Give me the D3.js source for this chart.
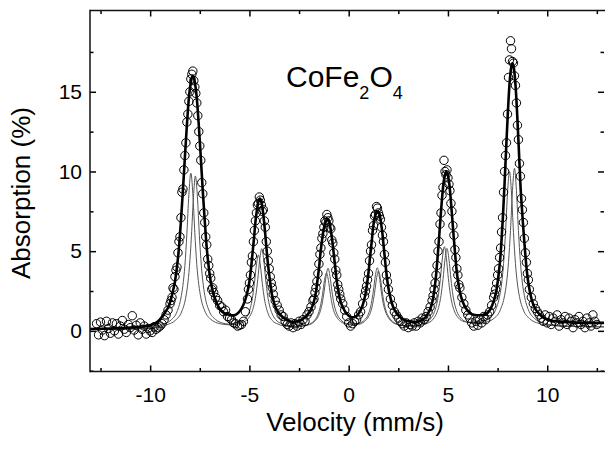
<!DOCTYPE html>
<html><head><meta charset="utf-8">
<script src="https://cdn.jsdelivr.net/npm/d3@7"></script>
<style>
body{margin:0;background:#fff}
svg{display:block}
text{font-family:"Liberation Sans",Arial,Helvetica,sans-serif;fill:#000}
</style>
</head><body>
<svg id="chart" width="605" height="452"></svg>
<script>
const xTicksMajor = [-10, -5, 0, 5, 10];
const xTicksMinor = [-12.5, -7.5, -2.5, 2.5, 7.5, 12.5];
const yTicksMajor = [0, 5, 10, 15];
const yTicksMinor = [-2.5, 2.5, 7.5, 12.5, 17.5];
const xTitle = "Velocity (mm/s)";
const yTitle = "Absorption (%)";
const sampleName = ["CoFe", "2", "O", "4"];

// measured points (open circles)
const dataVelocity = [
-12.7,-12.6,-12.5,-12.4,-12.3,-12.2,-12.1,-12.0,-11.9,-11.8,-11.7,-11.6,-11.5,-11.4,-11.3,-11.2,-11.1,-11.0,-10.9,-10.8,-10.7,-10.6,-10.5,-10.4,-10.3,-10.2,-10.1,-10.0,-9.9,-9.8,-9.7,-9.6,
-9.5,-9.4,-9.3,-9.2,-9.1,-9.0,
-8.95,-8.9,-8.85,-8.8,-8.75,-8.7,-8.65,-8.6,-8.55,-8.5,-8.45,-8.4,-8.35,-8.3,-8.25,-8.2,-8.15,-8.1,-8.05,-8.0,-7.95,-7.9,-7.85,-7.8,-7.75,-7.7,-7.65,-7.6,-7.55,-7.5,-7.45,-7.4,-7.35,-7.3,-7.25,-7.2,-7.15,-7.1,-7.05,-7.0,-6.95,-6.9,-6.85,-6.8,
-6.7,-6.6,-6.5,-6.4,-6.3,-6.2,-6.1,-6.0,-5.9,-5.8,-5.7,-5.6,-5.5,-5.4,-5.3,-5.2,
-5.1,-5.05,-5.0,-4.95,-4.9,-4.85,-4.8,-4.75,-4.7,-4.65,-4.6,-4.55,-4.5,-4.45,-4.4,-4.35,-4.3,-4.25,-4.2,-4.15,-4.1,-4.05,-4.0,-3.95,-3.9,-3.85,-3.8,
-3.7,-3.6,-3.5,-3.4,-3.3,-3.2,-3.1,-3.0,-2.9,-2.8,-2.7,-2.6,-2.5,-2.4,-2.3,-2.2,-2.1,-2.0,-1.9,-1.8,
-1.75,-1.7,-1.65,-1.6,-1.55,-1.5,-1.45,-1.4,-1.35,-1.3,-1.25,-1.2,-1.15,-1.1,-1.05,-1.0,-0.95,-0.9,-0.85,-0.8,-0.75,-0.7,-0.65,-0.6,-0.55,-0.5,-0.45,-0.4,
-0.3,-0.2,-0.1,0.0,0.1,0.2,0.3,0.4,0.5,0.6,0.7,
0.8,0.85,0.9,0.95,1.0,1.05,1.1,1.15,1.2,1.25,1.3,1.35,1.4,1.45,1.5,1.55,1.6,1.65,1.7,1.75,1.8,1.85,1.9,1.95,2.0,
2.1,2.2,2.3,2.4,2.5,2.6,2.7,2.8,2.9,3.0,3.1,3.2,3.3,3.4,3.5,3.6,3.7,3.8,3.9,4.0,4.1,4.2,
4.25,4.3,4.35,4.4,4.45,4.5,4.55,4.6,4.65,4.7,4.75,4.8,4.85,4.9,4.95,5.0,5.05,5.1,5.15,5.2,5.25,5.3,5.35,5.4,5.45,5.5,5.55,5.6,
5.7,5.8,5.9,6.0,6.1,6.2,6.3,6.4,6.5,6.6,6.7,6.8,6.9,7.0,7.1,7.2,7.3,
7.35,7.4,7.45,7.5,7.55,7.6,7.65,7.7,7.75,7.8,7.85,7.9,7.95,8.0,8.05,8.1,8.15,8.2,8.25,8.3,8.35,8.4,8.45,8.5,8.55,8.6,8.65,8.7,8.75,8.8,8.85,8.9,8.95,9.0,9.05,9.1,
9.2,9.3,9.4,9.5,9.6,9.7,9.8,9.9,10.0,10.1,10.2,10.3,10.4,10.5,10.6,10.7,10.8,10.9,11.0,11.1,11.2,11.3,11.4,11.5,11.6,11.7,11.8,11.9,12.0,12.1,12.2,12.3,12.4,12.5
];
const dataAbsorption = [
0.45,-0.25,0.55,0.05,-0.3,0.6,0.15,-0.15,0.5,0.0,0.45,-0.2,0.3,0.65,0.1,-0.1,0.4,0.2,0.95,0.05,0.35,-0.25,0.5,0.1,0.3,-0.2,0.15,0.0,-0.1,0.25,0.1,0.2,
0.3,0.45,0.7,1.0,1.3,1.7,
1.9,2.1,2.7,2.6,3.4,3.8,4.0,4.9,5.6,5.9,7.1,8.7,8.9,10.1,11.0,11.8,13.1,13.6,14.4,15.0,15.8,16.1,16.3,15.7,15.3,14.9,14.3,13.5,12.5,11.6,10.7,9.3,8.6,7.4,6.8,5.9,5.4,4.5,4.1,3.6,3.3,2.6,2.7,2.4,
2.1,1.9,1.6,1.5,1.2,1.3,0.9,0.8,0.7,0.5,0.45,0.3,0.35,0.4,0.6,1.2,
2.0,2.6,3.0,3.5,4.3,4.7,5.6,6.3,6.9,7.4,7.9,8.0,8.4,8.2,7.9,7.5,7.6,6.9,6.5,5.6,5.0,4.4,3.9,3.4,3.0,2.7,2.3,
1.9,1.6,1.3,1.0,0.9,0.6,0.4,0.3,0.5,0.2,0.45,0.3,0.6,0.4,0.7,0.6,1.0,1.2,1.5,1.9,
2.0,2.4,2.7,3.1,3.6,4.2,4.8,5.2,5.8,6.1,6.5,6.9,6.8,7.3,7.1,6.9,6.5,6.4,5.7,5.5,4.9,4.5,3.8,3.5,2.9,2.6,2.3,2.0,
1.7,1.3,0.9,0.5,0.3,0.45,0.6,0.7,1.0,1.2,1.7,
2.2,2.5,2.8,3.2,3.6,4.4,5.0,5.4,6.3,6.6,7.2,7.3,7.8,7.7,7.4,7.2,7.0,6.5,6.0,5.6,4.8,4.3,3.5,3.1,2.6,
2.0,1.6,1.2,1.0,0.8,0.6,0.45,0.3,0.5,0.2,0.4,0.3,0.5,0.3,0.6,0.5,0.8,0.7,0.9,1.2,1.5,1.9,
2.2,2.6,3.0,3.5,4.1,5.0,5.6,6.7,7.4,8.5,9.0,10.7,10.0,9.8,10.1,9.6,9.2,8.8,8.0,7.5,6.6,6.0,5.1,4.6,3.9,3.5,2.9,2.7,
2.1,1.7,1.3,1.0,0.8,0.5,0.3,0.6,0.35,0.7,0.5,0.9,0.7,1.0,1.2,1.6,2.1,
2.3,2.6,3.0,3.5,3.9,4.6,5.2,6.2,7.1,8.7,10.0,11.0,11.8,13.6,15.9,17.0,18.2,17.7,16.9,16.8,16.0,15.4,14.3,12.9,12.0,10.5,9.7,8.3,7.6,6.8,5.8,4.9,4.3,3.6,3.2,2.6,
2.1,1.7,1.4,1.2,1.0,0.8,0.6,1.0,0.5,0.9,0.4,0.8,0.6,1.0,0.3,0.7,0.5,0.9,0.4,0.8,0.6,0.2,0.7,0.5,0.9,0.4,0.6,0.2,0.8,0.5,0.3,1.0,0.6,0.4
];

// total fit (thick line)
const fitVelocity = [-13.03,-12,-11,-10.5,-10,-9.8,-9.6,-9.45,-9.25,-9.05,-8.85,-8.75,-8.65,-8.55,-8.45,-8.35,-8.25,-8.15,-8.05,-7.95,-7.85,-7.75,-7.65,-7.55,-7.45,-7.35,-7.25,-7.15,-7.05,-6.95,-6.85,-6.65,-6.45,-6.25,-6.0,-5.8,-5.55,-5.4,-5.25,-5.15,-5.0,-4.92,-4.85,-4.77,-4.7,-4.62,-4.55,-4.47,-4.4,-4.32,-4.25,-4.17,-4.1,-4.02,-3.94,-3.87,-3.79,-3.72,-3.57,-3.4,-3.2,-3.0,-2.8,-2.6,-2.4,-2.2,-2.05,-1.9,-1.8,-1.72,-1.64,-1.57,-1.49,-1.42,-1.34,-1.27,-1.19,-1.12,-1.05,-0.97,-0.9,-0.82,-0.75,-0.67,-0.6,-0.52,-0.45,-0.37,-0.3,-0.15,0.0,0.15,0.3,0.45,0.6,0.7,0.78,0.86,0.93,1.01,1.08,1.16,1.23,1.31,1.39,1.47,1.55,1.62,1.7,1.77,1.85,1.93,2.0,2.08,2.16,2.24,2.39,2.6,2.8,3.0,3.3,3.6,3.87,4.02,4.17,4.245,4.32,4.395,4.47,4.545,4.62,4.695,4.77,4.845,4.92,4.995,5.07,5.145,5.22,5.295,5.37,5.445,5.52,5.595,5.67,5.82,5.97,6.2,6.5,6.75,6.97,7.13,7.29,7.45,7.53,7.61,7.69,7.77,7.85,7.93,8.01,8.09,8.17,8.25,8.33,8.41,8.49,8.57,8.65,8.73,8.81,8.89,8.97,9.05,9.21,9.37,9.53,9.8,10.2,11,12,12.86];
const fitTotal = [0.12,0.15,0.2,0.25,0.35,0.45,0.6,0.8,1.15,1.6,2.5,3.1,4.0,5.2,6.9,8.8,10.9,12.9,14.6,15.6,16.0,15.6,14.6,12.9,10.9,8.8,6.9,5.2,4.0,3.1,2.5,1.75,1.3,1.1,1.0,0.97,1.15,1.4,1.8,2.2,3.1,3.9,4.8,5.8,6.8,7.6,8.1,8.3,8.1,7.5,6.7,5.6,4.6,3.7,2.9,2.3,1.9,1.6,1.2,0.95,0.75,0.62,0.56,0.6,0.68,0.85,1.05,1.35,1.65,2.0,2.5,3.2,4.0,4.9,5.7,6.3,6.75,6.95,7.0,6.8,6.3,5.6,4.8,3.9,3.1,2.5,2.05,1.7,1.5,1.15,0.95,0.85,0.85,1.0,1.3,1.6,1.95,2.4,3.0,3.8,4.7,5.6,6.5,7.1,7.4,7.5,7.35,6.85,6.1,5.2,4.2,3.3,2.7,2.2,1.8,1.5,1.15,0.85,0.7,0.6,0.55,0.62,0.85,1.15,1.6,2.0,2.6,3.4,4.5,5.7,7.0,8.2,9.2,9.77,10.0,9.77,9.2,8.2,7.0,5.8,4.7,3.7,3.0,2.47,2.1,1.6,1.3,1.05,0.98,1.0,1.1,1.35,1.8,2.6,3.3,4.2,5.5,7.2,9.2,11.4,13.5,15.3,16.4,16.8,16.4,15.3,13.5,11.4,9.2,7.6,6.2,4.9,3.8,3.0,2.0,1.45,1.15,0.85,0.65,0.55,0.5,0.5];

// sub-spectrum A (thin line)
const siteAVelocity = [-13.03,-12,-11,-10,-9.45,-8.95,-8.65,-8.45,-8.35,-8.25,-8.15,-8.05,-7.95,-7.85,-7.75,-7.65,-7.55,-7.45,-7.25,-6.95,-6.45,-6.0,-5.55,-5.25,-5.05,-4.95,-4.85,-4.75,-4.65,-4.55,-4.45,-4.35,-4.25,-4.15,-4.05,-3.85,-3.55,-3.05,-2.6,-2.12,-1.82,-1.62,-1.52,-1.42,-1.32,-1.22,-1.12,-1.02,-0.92,-0.82,-0.72,-0.62,-0.42,-0.12,0.2,0.5,0.8,1.0,1.1,1.2,1.3,1.4,1.5,1.6,1.7,1.8,1.9,2.0,2.2,2.5,3.0,3.45,3.95,4.25,4.45,4.55,4.65,4.75,4.85,4.95,5.05,5.15,5.25,5.35,5.45,5.65,5.95,6.45,6.85,7.35,7.65,7.85,7.95,8.05,8.15,8.25,8.35,8.45,8.55,8.65,8.75,8.85,9.05,9.35,9.85,10.35,11,12,12.86];
const siteAValues = [0.08,0.1,0.12,0.16,0.36,0.68,1.2,2.06,2.85,4.1,6.1,8.55,9.9,8.6,6.15,4.15,2.9,2.1,1.25,0.73,0.44,0.38,0.47,0.69,1.08,1.45,2.05,2.97,4.13,4.76,4.13,2.97,2.05,1.45,1.05,0.65,0.42,0.28,0.27,0.36,0.54,0.84,1.12,1.58,2.28,3.16,3.64,3.16,2.28,1.58,1.15,0.89,0.6,0.42,0.37,0.41,0.59,0.89,1.16,1.64,2.36,3.26,3.76,3.26,2.36,1.64,1.18,0.92,0.6,0.39,0.3,0.32,0.47,0.73,1.17,1.57,2.22,3.22,4.48,5.17,4.5,3.25,2.25,1.62,1.22,0.8,0.56,0.47,0.53,0.81,1.35,2.2,3.0,4.3,6.3,8.8,10.2,8.8,6.3,4.3,3.0,2.2,1.33,0.79,0.47,0.35,0.3,0.26,0.25];

// sub-spectrum B (thin line)
const siteBVelocity = [-13.03,-12,-11,-10,-9.22,-8.72,-8.42,-8.22,-8.12,-8.02,-7.92,-7.82,-7.72,-7.62,-7.52,-7.42,-7.32,-7.22,-7.02,-6.72,-6.22,-5.8,-5.38,-5.08,-4.88,-4.78,-4.68,-4.58,-4.48,-4.38,-4.28,-4.18,-4.08,-3.98,-3.88,-3.68,-3.38,-2.88,-2.5,-2.04,-1.74,-1.54,-1.44,-1.34,-1.24,-1.14,-1.04,-0.94,-0.84,-0.74,-0.64,-0.54,-0.34,-0.04,0.2,0.44,0.74,0.94,1.04,1.14,1.24,1.34,1.44,1.54,1.64,1.74,1.84,1.94,2.14,2.44,2.94,3.32,3.82,4.12,4.32,4.42,4.52,4.62,4.72,4.82,4.92,5.02,5.12,5.22,5.32,5.52,5.82,6.32,6.6,7.1,7.4,7.6,7.7,7.8,7.9,8.0,8.1,8.2,8.3,8.4,8.5,8.6,8.8,9.1,9.6,10.1,11,12,12.86];
const siteBValues = [0.08,0.1,0.12,0.16,0.36,0.67,1.18,2.02,2.8,4.04,5.96,8.38,9.72,8.4,5.98,4.06,2.83,2.05,1.23,0.73,0.45,0.4,0.5,0.75,1.17,1.57,2.22,3.22,4.47,5.16,4.47,3.2,2.2,1.55,1.15,0.71,0.45,0.3,0.28,0.37,0.57,0.89,1.19,1.69,2.45,3.41,3.93,3.41,2.45,1.69,1.22,0.93,0.62,0.44,0.42,0.44,0.62,0.92,1.22,1.72,2.48,3.44,3.96,3.44,2.48,1.72,1.25,0.96,0.61,0.41,0.32,0.34,0.48,0.75,1.19,1.6,2.26,3.28,4.57,5.28,4.58,3.3,2.3,1.65,1.25,0.82,0.58,0.49,0.52,0.81,1.32,2.16,2.94,4.22,6.18,8.65,10.0,8.65,6.18,4.22,2.94,2.16,1.3,0.78,0.46,0.35,0.28,0.26,0.25];

const W = 605, H = 452;
const pL = 90, pR = 604, pT = 10.5, pB = 371.5;

const x = d3.scaleLinear().domain([-13.03, 12.86]).range([pL, pR]);
const y = d3.scaleLinear().domain([-2.55, 20.1]).range([pB, pT]);

const svg = d3.select("#chart");
svg.append("defs").append("clipPath").attr("id", "clip")
  .append("rect").attr("x", pL).attr("y", pT).attr("width", pR - pL).attr("height", pB - pT);

const plot = svg.append("g").attr("clip-path", "url(#clip)");

const line = d3.line().x(d => x(d[0])).y(d => y(d[1])).curve(d3.curveMonotoneX);

plot.append("path").datum(d3.zip(siteAVelocity, siteAValues))
  .attr("d", line).attr("fill", "none").attr("stroke", "#555").attr("stroke-width", 1);
plot.append("path").datum(d3.zip(siteBVelocity, siteBValues))
  .attr("d", line).attr("fill", "none").attr("stroke", "#555").attr("stroke-width", 1);
plot.append("path").datum(d3.zip(fitVelocity, fitTotal))
  .attr("d", line).attr("fill", "none").attr("stroke", "#000").attr("stroke-width", 2.6)
  .attr("stroke-linejoin", "round");

plot.append("g").selectAll("circle").data(d3.zip(dataVelocity, dataAbsorption)).join("circle")
  .attr("cx", d => x(d[0])).attr("cy", d => y(d[1])).attr("r", 4.2)
  .attr("fill", "none").attr("stroke", "#000").attr("stroke-width", 1);

function styleAxis(g) {
  g.select(".domain").remove();
  g.selectAll(".tick line").attr("stroke", "#000").attr("stroke-width", 1.5);
  g.selectAll("text").attr("font-size", 21).attr("font-family", '"Liberation Sans",Arial,sans-serif').attr("fill", "#000");
}
const fmt = d => String(d);

svg.append("g").attr("transform", `translate(0,${pB})`)
  .call(d3.axisBottom(x).tickValues(xTicksMajor).tickSize(-6).tickPadding(15.5).tickFormat(fmt)).call(styleAxis);
svg.append("g").attr("transform", `translate(0,${pB})`)
  .call(d3.axisBottom(x).tickValues(xTicksMinor).tickSize(-3.5).tickFormat("")).call(styleAxis);
svg.append("g").attr("transform", `translate(0,${pT})`)
  .call(d3.axisTop(x).tickValues(xTicksMajor).tickSize(-6).tickFormat("")).call(styleAxis);
svg.append("g").attr("transform", `translate(0,${pT})`)
  .call(d3.axisTop(x).tickValues(xTicksMinor).tickSize(-3.5).tickFormat("")).call(styleAxis);

svg.append("g").attr("transform", `translate(${pL},0)`)
  .call(d3.axisLeft(y).tickValues(yTicksMajor).tickSize(-6).tickPadding(8).tickFormat(fmt)).call(styleAxis);
svg.append("g").attr("transform", `translate(${pL},0)`)
  .call(d3.axisLeft(y).tickValues(yTicksMinor).tickSize(-3.5).tickFormat("")).call(styleAxis);
svg.append("g").attr("transform", `translate(${pR},0)`)
  .call(d3.axisRight(y).tickValues(yTicksMajor).tickSize(-6).tickFormat("")).call(styleAxis);
svg.append("g").attr("transform", `translate(${pR},0)`)
  .call(d3.axisRight(y).tickValues(yTicksMinor).tickSize(-3.5).tickFormat("")).call(styleAxis);

const frame = svg.append("g").attr("stroke", "#111").attr("stroke-width", 1.5).attr("fill", "none");
frame.append("line").attr("x1", pL).attr("x2", pL).attr("y1", pT - 0.75).attr("y2", pB + 0.75);
frame.append("line").attr("x1", pL).attr("x2", W).attr("y1", pT).attr("y2", pT);
frame.append("line").attr("x1", pL).attr("x2", W).attr("y1", pB).attr("y2", pB);

svg.append("text").attr("x", 355).attr("y", 431).attr("text-anchor", "middle")
  .attr("font-size", 26).text(xTitle);
svg.append("text").attr("transform", "translate(29.5,193) rotate(-90)").attr("text-anchor", "middle")
  .attr("font-size", 26).text(yTitle);

const t = svg.append("text").attr("x", 286).attr("y", 86.7).attr("font-size", 30);
t.append("tspan").text(sampleName[0]);
t.append("tspan").attr("font-size", 18).attr("dy", 12.6).text(sampleName[1]);
t.append("tspan").attr("dy", -12.6).text(sampleName[2]);
t.append("tspan").attr("font-size", 18).attr("dy", 12.6).text(sampleName[3]);
</script>
</body></html>
